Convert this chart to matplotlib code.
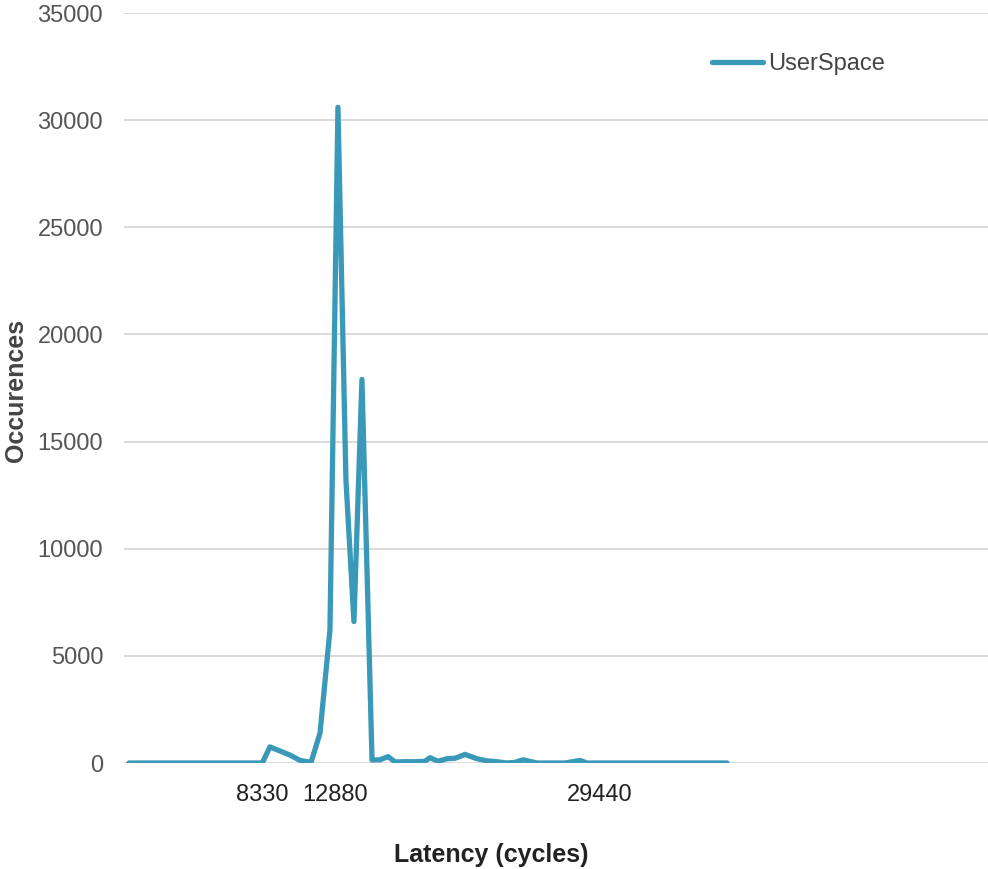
import matplotlib
matplotlib.use("Agg")
import matplotlib.pyplot as plt

# latency histogram (cycles -> occurrences)
latency = [0, 8330, 8810, 9440, 10060, 10690, 11380, 11940, 12560, 13060,
           13560, 14060, 14560, 15190, 15690, 16190, 16630, 17250, 17880,
           18500, 18810, 19310, 19880, 20380, 21000, 21750, 22380, 23000,
           23630, 24130, 24630, 25500, 26310, 27250, 28190, 28630, 29440,
           32560, 37380]
occurrences = [0, 0, 750, 560, 370, 120, 30, 1400, 6200, 30600,
               13200, 6600, 17900, 140, 150, 300, 50, 60, 60,
               80, 250, 80, 200, 220, 400, 200, 100, 60,
               0, 30, 150, 0, 0, 0, 120, 0, 0,
               0, 0]
xtick_values = [8330, 12880, 29440]
yticks = [0, 5000, 10000, 15000, 20000, 25000, 30000, 35000]

LINE = "#3a99b9"
FONT = ["Liberation Sans", "DejaVu Sans"]
FS = 17
TITLE_FS = 18
plt.rcParams["font.family"] = FONT

fig = plt.figure(figsize=(9.88, 8.69), dpi=100)
ax = fig.add_axes([124 / 988, 1 - 763 / 869, 1 - 124 / 988, (763 - 13) / 869])

ax.plot(latency, occurrences, color=LINE, lw=3.8, solid_joinstyle="round",
        solid_capstyle="round", label="UserSpace", zorder=3)

ax.set_xlim(-312, 53690)
ax.set_ylim(0, 35000)
ax.set_yticks(yticks)
ax.set_yticklabels([str(v) for v in yticks])
ax.set_xticks(xtick_values)
ax.set_xticklabels([str(v) for v in xtick_values])

ax.grid(axis="y", color="#d4d4d4", lw=1.2, zorder=0)
ax.grid(axis="x", visible=False)
for s in ax.spines.values():
    s.set_visible(False)
ax.tick_params(axis="y", length=0, pad=15, labelsize=FS, labelcolor="#555555")
ax.tick_params(axis="x", length=0, pad=15, labelsize=FS, labelcolor="#222222")

# axis titles placed like the reference (x title is off-centre there)
fig.text(491 / 988, 1 - 855 / 869, "Latency (cycles)", fontsize=TITLE_FS,
         fontweight="bold", color="#222222", ha="center", va="center")
fig.text(16 / 988, 1 - 390 / 869, "Occurences", fontsize=TITLE_FS,
         fontweight="bold", color="#444444", rotation=90,
         ha="center", va="center")

ax.legend(loc="center left", bbox_to_anchor=(712 / 988, 1 - 64 / 869),
          bbox_transform=fig.transFigure, frameon=False, borderpad=0,
          borderaxespad=0, handlelength=2.15, handletextpad=0.22,
          fontsize=FS, labelcolor="#444444")

fig.savefig("out.png", dpi=100)
